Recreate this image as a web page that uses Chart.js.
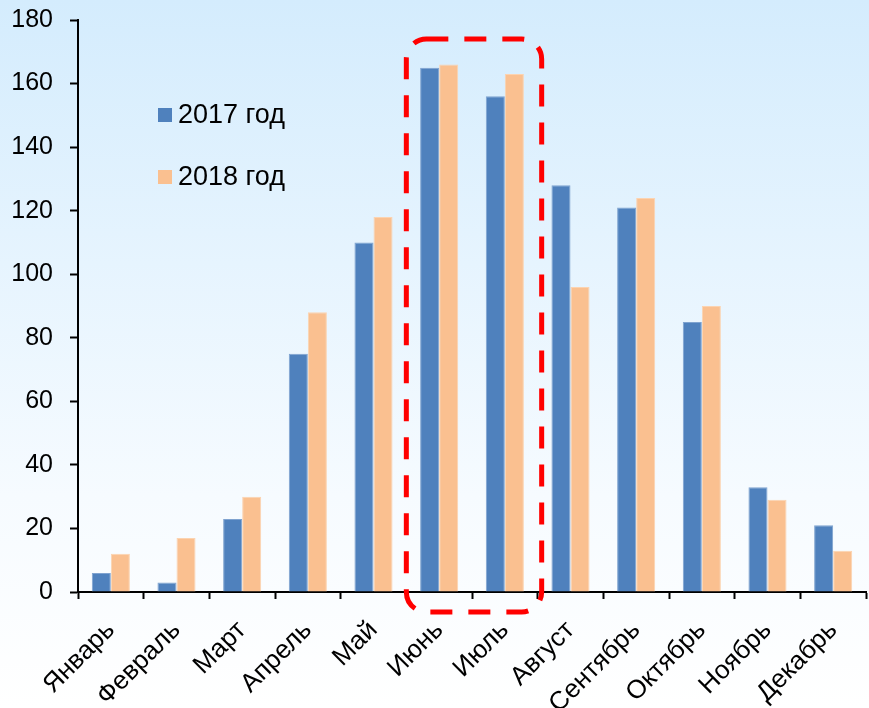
<!DOCTYPE html>
<html>
<head>
<meta charset="utf-8">
<script src="https://cdn.jsdelivr.net/npm/chart.js@4.4.1/dist/chart.umd.min.js"></script>
<style>
  html, body { margin: 0; padding: 0; background: #ffffff; }
  #wrap { width: 869px; height: 708px; }
</style>
</head>
<body>
<div id="wrap"><canvas id="monthChart" width="869" height="708"></canvas></div>
<script>
// Месяцы и значения
const months = ["Январь", "Февраль", "Март", "Апрель", "Май", "Июнь",
  "Июль", "Август", "Сентябрь", "Октябрь", "Ноябрь", "Декабрь"];
const values2017 = [6, 3, 23, 75, 110, 165, 156, 128, 121, 85, 33, 21];
const values2018 = [12, 17, 30, 88, 118, 166, 163, 96, 124, 90, 29, 13];
const seriesLabels = ["2017 год", "2018 год"];
const highlightMonths = ["Июнь", "Июль"];

const FONT = "'Liberation Sans', Arial, sans-serif";

// фон с градиентом
const backgroundPlugin = {
  id: "bgGradient",
  beforeDraw(chart) {
    const { ctx, width, height } = chart;
    const g = ctx.createLinearGradient(0, 0, 0, height);
    g.addColorStop(0, "#d4ecfd");
    g.addColorStop(0.7, "#f6fbff");
    g.addColorStop(1, "#ffffff");
    ctx.save();
    ctx.fillStyle = g;
    ctx.fillRect(0, 0, width, height);
    ctx.restore();
  },
};

// легенда внутри области графика
const innerLegend = {
  id: "innerLegend",
  afterDraw(chart) {
    const { ctx, chartArea } = chart;
    ctx.save();
    ctx.font = "27px " + FONT;
    ctx.textBaseline = "middle";
    chart.data.datasets.forEach((ds, i) => {
      const x = chartArea.left + 80;
      const y = chartArea.top + 95 + i * 62;
      ctx.fillStyle = ds.backgroundColor;
      ctx.fillRect(x, y - 7, 14, 14);
      ctx.fillStyle = "#000";
      ctx.fillText(ds.label, x + 20, y + 1);
    });
    ctx.restore();
  },
};

// красная пунктирная рамка вокруг июня-июля
const highlightBox = {
  id: "highlightBox",
  afterDraw(chart) {
    const xs = chart.scales.x;
    const ys = chart.scales.y;
    const first = months.indexOf(highlightMonths[0]);
    const last = months.indexOf(highlightMonths[highlightMonths.length - 1]);
    const left = xs.getPixelForValue(first - 0.5);
    const right = xs.getPixelForValue(last + 0.5) + 4;
    const top = ys.getPixelForValue(174);
    const bottom = chart.chartArea.bottom + 20;
    const { ctx } = chart;
    ctx.save();
    ctx.strokeStyle = "#ff0000";
    ctx.lineWidth = 5;
    ctx.setLineDash([22, 16]);
    ctx.beginPath();
    ctx.roundRect(left, top, right - left, bottom - top, 20);
    ctx.stroke();
    ctx.restore();
  },
};

const ctx = document.getElementById("monthChart").getContext("2d");
new Chart(ctx, {
  type: "bar",
  data: {
    labels: months,
    datasets: [
      {
        label: seriesLabels[0],
        data: values2017,
        backgroundColor: "#4f81bd",
        borderColor: "#7fa3d0",
        borderWidth: 1,
        categoryPercentage: 0.58,
        barPercentage: 1,
      },
      {
        label: seriesLabels[1],
        data: values2018,
        backgroundColor: "#fac090",
        borderColor: "#fcd3b0",
        borderWidth: 1,
        categoryPercentage: 0.58,
        barPercentage: 1,
      },
    ],
  },
  options: {
    responsive: false,
    animation: false,
    layout: { padding: { top: 20, right: 3, left: 12, bottom: 0 } },
    scales: {
      x: {
        afterFit(scale) {
          scale.height = 116;
          scale.paddingLeft = 0;
          scale.paddingRight = 0;
        },
        grid: {
          drawOnChartArea: false,
          drawTicks: true,
          tickLength: 7,
          tickWidth: 2,
          tickColor: "#000",
        },
        border: { color: "#000", width: 2 },
        ticks: {
          color: "#000",
          font: { family: FONT, size: 26 },
          maxRotation: 45,
          minRotation: 45,
          autoSkip: false,
          padding: 16,
        },
      },
      y: {
        min: 0,
        max: 180,
        afterFit(scale) {
          scale.width = 66;
          scale.paddingTop = 0;
          scale.paddingBottom = 0;
        },
        grid: {
          drawOnChartArea: false,
          drawTicks: true,
          tickLength: 8,
          tickWidth: 2,
          tickColor: "#000",
        },
        border: { color: "#000", width: 2 },
        ticks: {
          stepSize: 20,
          color: "#000",
          font: { family: FONT, size: 25 },
          padding: 17,
        },
      },
    },
    plugins: {
      legend: { display: false },
      tooltip: { enabled: false },
    },
  },
  plugins: [backgroundPlugin, innerLegend, highlightBox],
});
</script>
</body>
</html>
